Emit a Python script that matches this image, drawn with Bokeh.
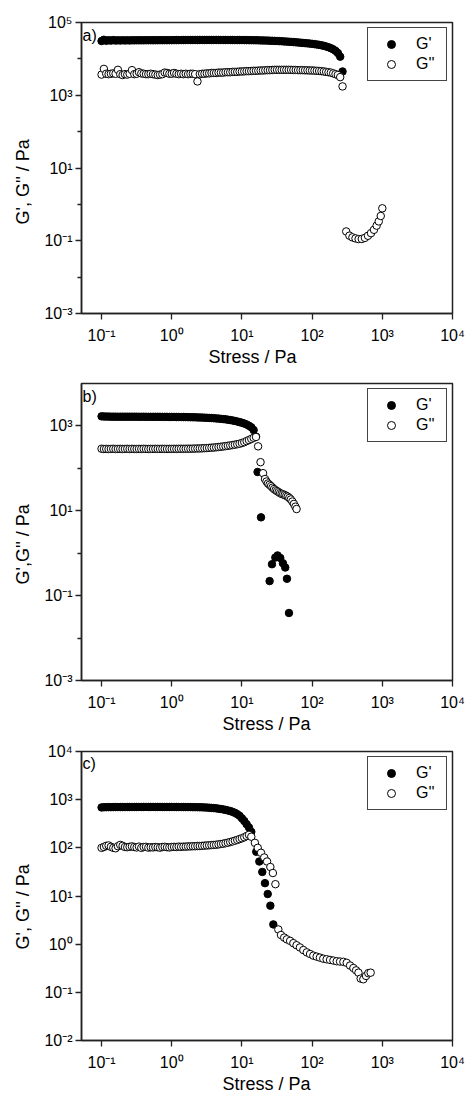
from bokeh.plotting import figure
from bokeh.models import FixedTicker, Legend, LegendItem, Label, Range1d, Title
from bokeh.layouts import column
from bokeh.embed import file_html
from bokeh.resources import INLINE

FONT = "Liberation Sans"

# ---------------- shared axis data ----------------
x_ticks = [0.1, 1, 10, 100, 1000, 10000]
x_tick_labels = ["10⁻¹", "10⁰", "10¹", "10²", "10³", "10⁴"]
x_title = "Stress / Pa"

# stress values of the logarithmic sweep (shared by the three samples)
stress_sweep = [
    0.1, 0.108, 0.1166, 0.1259, 0.1359, 0.1468, 0.1585, 0.1711, 0.1848, 0.1995,
    0.2154, 0.2326, 0.2512, 0.2712, 0.2929, 0.3162, 0.3415, 0.3687, 0.3981, 0.4299,
    0.4642, 0.5012, 0.5412, 0.5843, 0.631, 0.6813, 0.7356, 0.7943, 0.8577, 0.9261,
    1.0, 1.08, 1.166, 1.259, 1.359, 1.468, 1.585, 1.711, 1.848, 1.995,
    2.154, 2.326, 2.512, 2.712, 2.929, 3.162, 3.415, 3.687, 3.981, 4.299,
    4.642, 5.012, 5.412, 5.843, 6.31, 6.813, 7.356, 7.943, 8.577, 9.261,
    10.0, 10.8, 11.66, 12.59, 13.59, 14.68, 15.85, 17.11, 18.48, 19.95,
    21.54, 23.26, 25.12, 27.12, 29.29, 31.62, 34.15, 36.87, 39.81, 42.99,
    46.42, 50.12, 54.12, 58.43, 63.1, 68.13, 73.56, 79.43, 85.77, 92.61,
    100, 108, 116.6, 125.9, 135.9, 146.8, 158.5, 171.1, 184.8, 199.5,
    215.4, 232.6, 251.2, 271.2]

# ---------------- panel a ----------------
stress_a = stress_sweep[:104]
gp_a = [31000, 33500, 31500, 32600, 31800, 32800, 31900, 32400, 32000, 32500,
        32100, 32400, 32200, 32400, 32300, 32500, 32400, 32500, 32400, 32500,
        32500, 32600, 32500, 32600, 32600, 32700, 32600, 32700, 32700, 32700,
        32700, 32800, 32800, 32800, 32900, 32900, 32900, 33000, 33000, 33000,
        33000, 33000, 33100, 33100, 33100, 33100, 33100, 33100, 33100, 33100,
        33100, 33000, 33000, 33000, 33000, 33000, 33000, 32900, 32900, 32900,
        32900, 32850, 32800, 32700, 32650, 32550, 32450, 32350, 32250, 32100,
        31950, 31800, 31600, 31400, 31200, 31000, 30750, 30500, 30200, 29900,
        29600, 29300, 28950, 28600, 28250, 27900, 27500, 27100, 26700, 26300,
        25900, 25400, 24900, 24300, 23600, 22800, 21900, 20900, 19700, 18300,
        16600, 14500, 11500, 4500]
gpp_a = [3700, 5300, 3900, 3800, 3900, 4000, 3900, 5000, 3800, 3600,
         3800, 3700, 3900, 4900, 3800, 3900, 4300, 4000, 3900, 3800,
         3800, 3900, 3800, 3700, 3600, 3700, 3800, 4200, 4100, 3900,
         3900, 4100, 3900, 3800, 3900, 3800, 3900, 3800, 3900, 3900,
         3800, 2400, 3800, 3900, 3900, 4000, 4000, 4100, 4100, 4100,
         4200, 4200, 4200, 4300, 4300, 4300, 4400, 4400, 4400, 4500,
         4500, 4550, 4600, 4600, 4650, 4700, 4700, 4750, 4800, 4800,
         4850, 4900, 4900, 4950, 5000, 5000, 5000, 5000, 5000, 5000,
         5000, 5000, 4950, 4950, 4900, 4900, 4900, 4850, 4850, 4800,
         4800, 4750, 4700, 4650, 4600, 4500, 4400, 4300, 4200, 4000,
         3800, 3600, 3150, 1750]
stress_a_post = [306, 340, 375, 415, 460, 510, 565, 625, 690, 760, 830, 890, 950, 1000]
gpp_a_post = [0.18, 0.138, 0.124, 0.116, 0.111, 0.112, 0.120, 0.137, 0.162, 0.20,
              0.26, 0.34, 0.48, 0.78]
y_ticks_a = [1e-3, 1e-1, 1e1, 1e3, 1e5]
y_tick_labels_a = ["10⁻³", "10⁻¹", "10¹", "10³", "10⁵"]
y_minor_a = [1e-2, 1e0, 1e2, 1e4]
y_title_a = "G', G'' / Pa"

# ---------------- panel b ----------------
stress_b = stress_sweep[:67]
gp_b = [1680, 1670, 1660, 1660, 1655, 1655, 1650, 1650, 1650, 1650,
        1650, 1650, 1650, 1650, 1650, 1650, 1645, 1645, 1645, 1645,
        1640, 1640, 1640, 1640, 1640, 1640, 1635, 1635, 1635, 1630,
        1630, 1630, 1625, 1625, 1620, 1620, 1615, 1610, 1605, 1600,
        1595, 1590, 1580, 1575, 1565, 1555, 1545, 1535, 1520, 1505,
        1490, 1470, 1450, 1430, 1405, 1375, 1345, 1310, 1270, 1230,
        1190, 1140, 1080, 1010, 930, 800, 560]
stress_b_gp_post = [16.7, 18.7, 24.8, 26.8, 29.9, 32.2, 35.2, 38.4, 41.4, 43.8, 46.8]
gp_b_post = [82, 7.0, 0.22, 0.55, 0.79, 0.885, 0.77, 0.58, 0.46, 0.25, 0.039]
gpp_b = [290, 286, 288, 285, 287, 289, 286, 287, 288, 286,
         287, 289, 286, 288, 287, 286, 288, 287, 289, 287,
         286, 288, 287, 289, 288, 287, 289, 288, 287, 288,
         288, 289, 288, 289, 290, 289, 290, 291, 290, 292,
         293, 294, 295, 297, 299, 301, 304, 307, 310, 314,
         318, 323, 328, 334, 340, 347, 354, 362, 371, 381,
         395, 415, 440, 465, 495, 525, 550]
stress_b_gpp_post = [17.0, 18.4, 20.0, 21.3, 22.4, 23.5, 24.7, 26.0, 27.3, 28.7,
                     30.2, 31.7, 33.3, 35.0, 36.8, 38.7, 40.7, 42.8, 45.0, 47.3,
                     49.7, 52.3, 55.0, 57.8, 60.0]
gpp_b_post = [330, 140, 77, 56, 49, 44, 41, 38, 35, 32.5,
              30.5, 29, 27.5, 26, 25, 24.4, 23.5, 22.5, 21.5, 20,
              18.5, 16.5, 14.5, 12.5, 11]
y_ticks_b = [1e-3, 1e-1, 1e1, 1e3]
y_tick_labels_b = ["10⁻³", "10⁻¹", "10¹", "10³"]
y_minor_b = [1e-2, 1e0, 1e2]
y_title_b = "G',G'' / Pa"

# ---------------- panel c ----------------
stress_c = stress_sweep[:65]
gp_c = [690, 695, 698, 700, 700, 701, 702, 702, 703, 703,
        703, 704, 704, 704, 705, 705, 705, 705, 706, 706,
        706, 706, 706, 706, 706, 705, 705, 705, 705, 705,
        705, 704, 704, 704, 703, 703, 702, 702, 701, 700,
        699, 697, 695, 693, 690, 686, 681, 675, 668, 660,
        650, 640, 628, 614, 598, 580, 558, 532, 500, 462,
        410, 360, 310, 265, 215]
stress_c_gp_post = [16.0, 17.7, 19.5, 21.3, 23.3, 25.4, 28.0]
gp_c_post = [83, 52, 31.6, 18.5, 11, 6.3, 2.57]
gpp_c = [100, 104, 110, 112, 105, 100, 98, 108, 115, 110,
         104, 103, 105, 107, 104, 102, 106, 100, 104, 105,
         101, 103, 102, 104, 103, 101, 104, 105, 103, 102,
         104, 105, 104, 106, 105, 106, 106, 107, 107, 108,
         108, 109, 109, 110, 111, 112, 113, 114, 115, 116,
         118, 120, 122, 125, 128, 132, 136, 141, 146, 152,
         158, 166, 176, 186, 170]
stress_c_gpp_post = [15.3, 16.8, 18.7, 20.8, 22.8, 25.4, 27.6, 30.0,
                     33, 36, 40, 43.6, 48.6, 54, 60, 67, 75, 84, 93.5, 104,
                     116, 129, 144, 161, 180, 201, 224, 250, 279, 311,
                     347, 387, 423, 457, 492, 537, 586, 632, 682]
gpp_c_post = [127, 100, 79, 63, 52, 40, 30, 17.6,
              2.02, 1.55, 1.37, 1.26, 1.17, 1.05, 0.95, 0.855, 0.755, 0.676, 0.625, 0.578,
              0.552, 0.526, 0.50, 0.486, 0.471, 0.457, 0.442, 0.436, 0.43, 0.41,
              0.36, 0.32, 0.286, 0.256, 0.193, 0.187, 0.219, 0.25, 0.256]
y_ticks_c = [1e-2, 1e-1, 1e0, 1e1, 1e2, 1e3, 1e4]
y_tick_labels_c = ["10⁻²", "10⁻¹", "10⁰", "10¹", "10²", "10³", "10⁴"]
y_minor_c = []
y_title_c = "G', G'' / Pa"

X_START = 0.0518
AXIS_COLOR = "#222222"


def make_panel(height, b_top, b_bottom, y_range, y_ticks, y_labels, y_minor,
               ytitle, ytitle_offset, xtitle_offset, tag, tag_y,
               gp_x, gp_y, gpp_x, gpp_y):
    p = figure(width=466, height=height, x_axis_type="log", y_axis_type="log",
               x_range=Range1d(X_START, 1e4), y_range=Range1d(*y_range),
               output_backend="svg", toolbar_location=None,
               min_border_left=81, min_border_right=14,
               min_border_top=b_top, min_border_bottom=b_bottom)
    p.grid.visible = False
    p.outline_line_color = AXIS_COLOR
    p.outline_line_width = 1.5
    p.background_fill_color = "white"
    p.border_fill_color = "white"

    xa = p.xaxis[0]
    xa.ticker = FixedTicker(ticks=x_ticks, minor_ticks=[])
    xa.major_label_overrides = {t: l for t, l in zip(x_ticks, x_tick_labels)}
    ya = p.yaxis[0]
    ya.ticker = FixedTicker(ticks=y_ticks, minor_ticks=y_minor)
    ya.major_label_overrides = {t: l for t, l in zip(y_ticks, y_labels)}

    for ax in (xa, ya):
        ax.axis_line_color = AXIS_COLOR
        ax.axis_line_width = 1.5
        ax.major_tick_line_color = AXIS_COLOR
        ax.minor_tick_line_color = AXIS_COLOR
        ax.major_tick_line_width = 1.3
        ax.minor_tick_line_width = 1.3
        ax.major_tick_in = 0
        ax.major_tick_out = 6
        ax.minor_tick_in = 0
        ax.minor_tick_out = 4
        ax.major_label_text_font = FONT
        ax.major_label_text_font_size = "16px"
        ax.major_label_text_color = "black"
    xa.major_label_standoff = 7
    ya.major_label_standoff = 3

    # axis titles as side titles, so they can be shifted like in the original
    p.add_layout(Title(text=x_title, align="left", offset=xtitle_offset,
                       vertical_align="top", standoff=0,
                       text_font=FONT, text_font_size="18px",
                       text_font_style="normal", text_color="black"), "below")
    p.add_layout(Title(text=ytitle, align="left", offset=ytitle_offset,
                       vertical_align="middle", standoff=15,
                       text_font=FONT, text_font_size="18px",
                       text_font_style="normal", text_color="black"), "left")

    r1 = p.scatter(gp_x, gp_y, marker="circle", size=7.5,
                   fill_color="black", line_color="black", line_width=1)
    r2 = p.scatter(gpp_x, gpp_y, marker="circle", size=7.5,
                   fill_color="white", line_color="black", line_width=1)

    legend = Legend(items=[LegendItem(label="G'", renderers=[r1]),
                           LegendItem(label="G''", renderers=[r2])],
                    location="top_right",
                    margin=5, padding=6, spacing=0,
                    glyph_width=34, glyph_height=20, label_height=20,
                    label_width=24, label_standoff=8,
                    label_text_font=FONT, label_text_font_size="16px",
                    label_text_color="black",
                    border_line_color="#444444", border_line_alpha=1.0,
                    border_line_width=1.5,
                    background_fill_color="white", background_fill_alpha=1.0)
    p.add_layout(legend, "center")

    # panel tag
    p.add_layout(Label(x=0.0535, y=tag_y, text=tag, text_font=FONT,
                       text_font_size="16px", text_baseline="middle",
                       text_color="black"))
    return p


pa = make_panel(368, 22, 54, (1e-3, 1e5), y_ticks_a, y_tick_labels_a, y_minor_a,
                y_title_a, 89, 127, "a)", 44000,
                stress_a, gp_a, stress_a + stress_a_post, gpp_a + gpp_a_post)
pb = make_panel(367, 15, 52, (1e-3, 1e4), y_ticks_b, y_tick_labels_b, y_minor_b,
                y_title_b, 96, 141, "b)", 5000,
                stress_b + stress_b_gp_post, gp_b + gp_b_post,
                stress_b + stress_b_gpp_post, gpp_b + gpp_b_post)
pc = make_panel(360, 16, 52, (1e-2, 1e4), y_ticks_c, y_tick_labels_c, y_minor_c,
                y_title_c, 91, 141, "c)", 5660,
                stress_c + stress_c_gp_post, gp_c + gp_c_post,
                stress_c + stress_c_gpp_post, gpp_c + gpp_c_post)

layout = column(pa, pb, pc, spacing=0)
open("out.html", "w").write(file_html(layout, INLINE))
